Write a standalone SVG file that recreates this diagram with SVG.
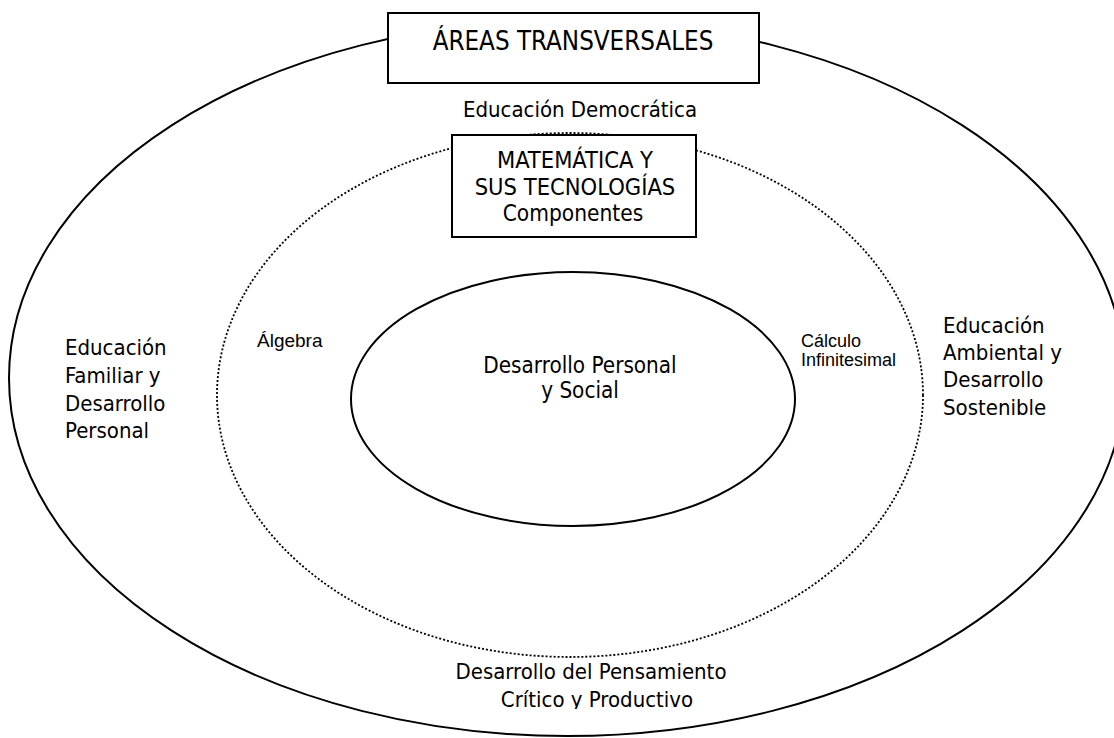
<svg xmlns="http://www.w3.org/2000/svg" width="1114" height="738" viewBox="0 0 1114 738">
<style>
.t{font-family:"DejaVu Sans Condensed","DejaVu Sans",sans-serif;font-stretch:condensed;fill:#000}
.s{font-family:"Liberation Sans",Arial,sans-serif;fill:#000}
.line{fill:none;stroke:#000;stroke-width:2}
.dot{fill:none;stroke:#000;stroke-width:1.8;stroke-dasharray:2 2}
.box{fill:#fff;stroke:#000;stroke-width:2}
</style>
<defs>
<clipPath id="clipBottom"><rect x="0" y="0" width="1114" height="709"/></clipPath>
</defs>
<rect width="1114" height="738" fill="#fff"/>
<g id="connectors"></g>
<g id="outer-ellipse">
<ellipse class="line" cx="567" cy="378" rx="558" ry="358"/>
</g>
<g id="middle-ellipse">
<ellipse class="dot" cx="570" cy="395" rx="353" ry="262"/>
</g>
<g id="inner-ellipse">
<ellipse class="line" cx="573" cy="399" rx="222" ry="127"/>
<text class="t" font-size="22.3" text-anchor="middle" x="580" y="373">Desarrollo Personal</text>
<text class="t" font-size="22.3" text-anchor="middle" x="580" y="398">y Social</text>
</g>
<g id="areas-transversales">
<rect class="box" x="388" y="13" width="371" height="70"/>
<text class="t" font-size="25.7" text-anchor="middle" x="573" y="50">ÁREAS TRANSVERSALES</text>
</g>
<g id="educacion-democratica">
<text class="t" font-size="22" text-anchor="middle" x="580" y="117">Educación Democrática</text>
</g>
<g id="matematica">
<rect class="box" x="452" y="135" width="244" height="102"/>
<text class="t" font-size="23.5" text-anchor="middle" x="575" y="168">MATEMÁTICA Y</text>
<text class="t" font-size="23.5" text-anchor="middle" x="575" y="195">SUS TECNOLOGÍAS</text>
<text class="t" font-size="22.5" text-anchor="middle" x="573" y="221">Componentes</text>
</g>
<g id="educacion-familiar">
<text class="t" font-size="22" x="65" y="355">Educación</text>
<text class="t" font-size="22" x="65" y="383">Familiar y</text>
<text class="t" font-size="22" x="65" y="411">Desarrollo</text>
<text class="t" font-size="22" x="65" y="438">Personal</text>
</g>
<g id="educacion-ambiental">
<text class="t" font-size="22" x="943" y="333">Educación</text>
<text class="t" font-size="22" x="943" y="360">Ambiental y</text>
<text class="t" font-size="22" x="943" y="387">Desarrollo</text>
<text class="t" font-size="22" x="943" y="415">Sostenible</text>
</g>
<g id="algebra">
<text class="s" font-size="19" x="257" y="347">Álgebra</text>
</g>
<g id="calculo">
<text class="s" font-size="18" x="801" y="347">Cálculo</text>
<text class="s" font-size="18" x="801" y="366">Infinitesimal</text>
</g>
<g id="pensamiento-critico">
<text class="t" font-size="22" text-anchor="middle" x="591" y="679">Desarrollo del Pensamiento</text>
<text class="t" font-size="22" text-anchor="middle" x="597" y="707" clip-path="url(#clipBottom)">Crítico y Productivo</text>
</g>
</svg>
